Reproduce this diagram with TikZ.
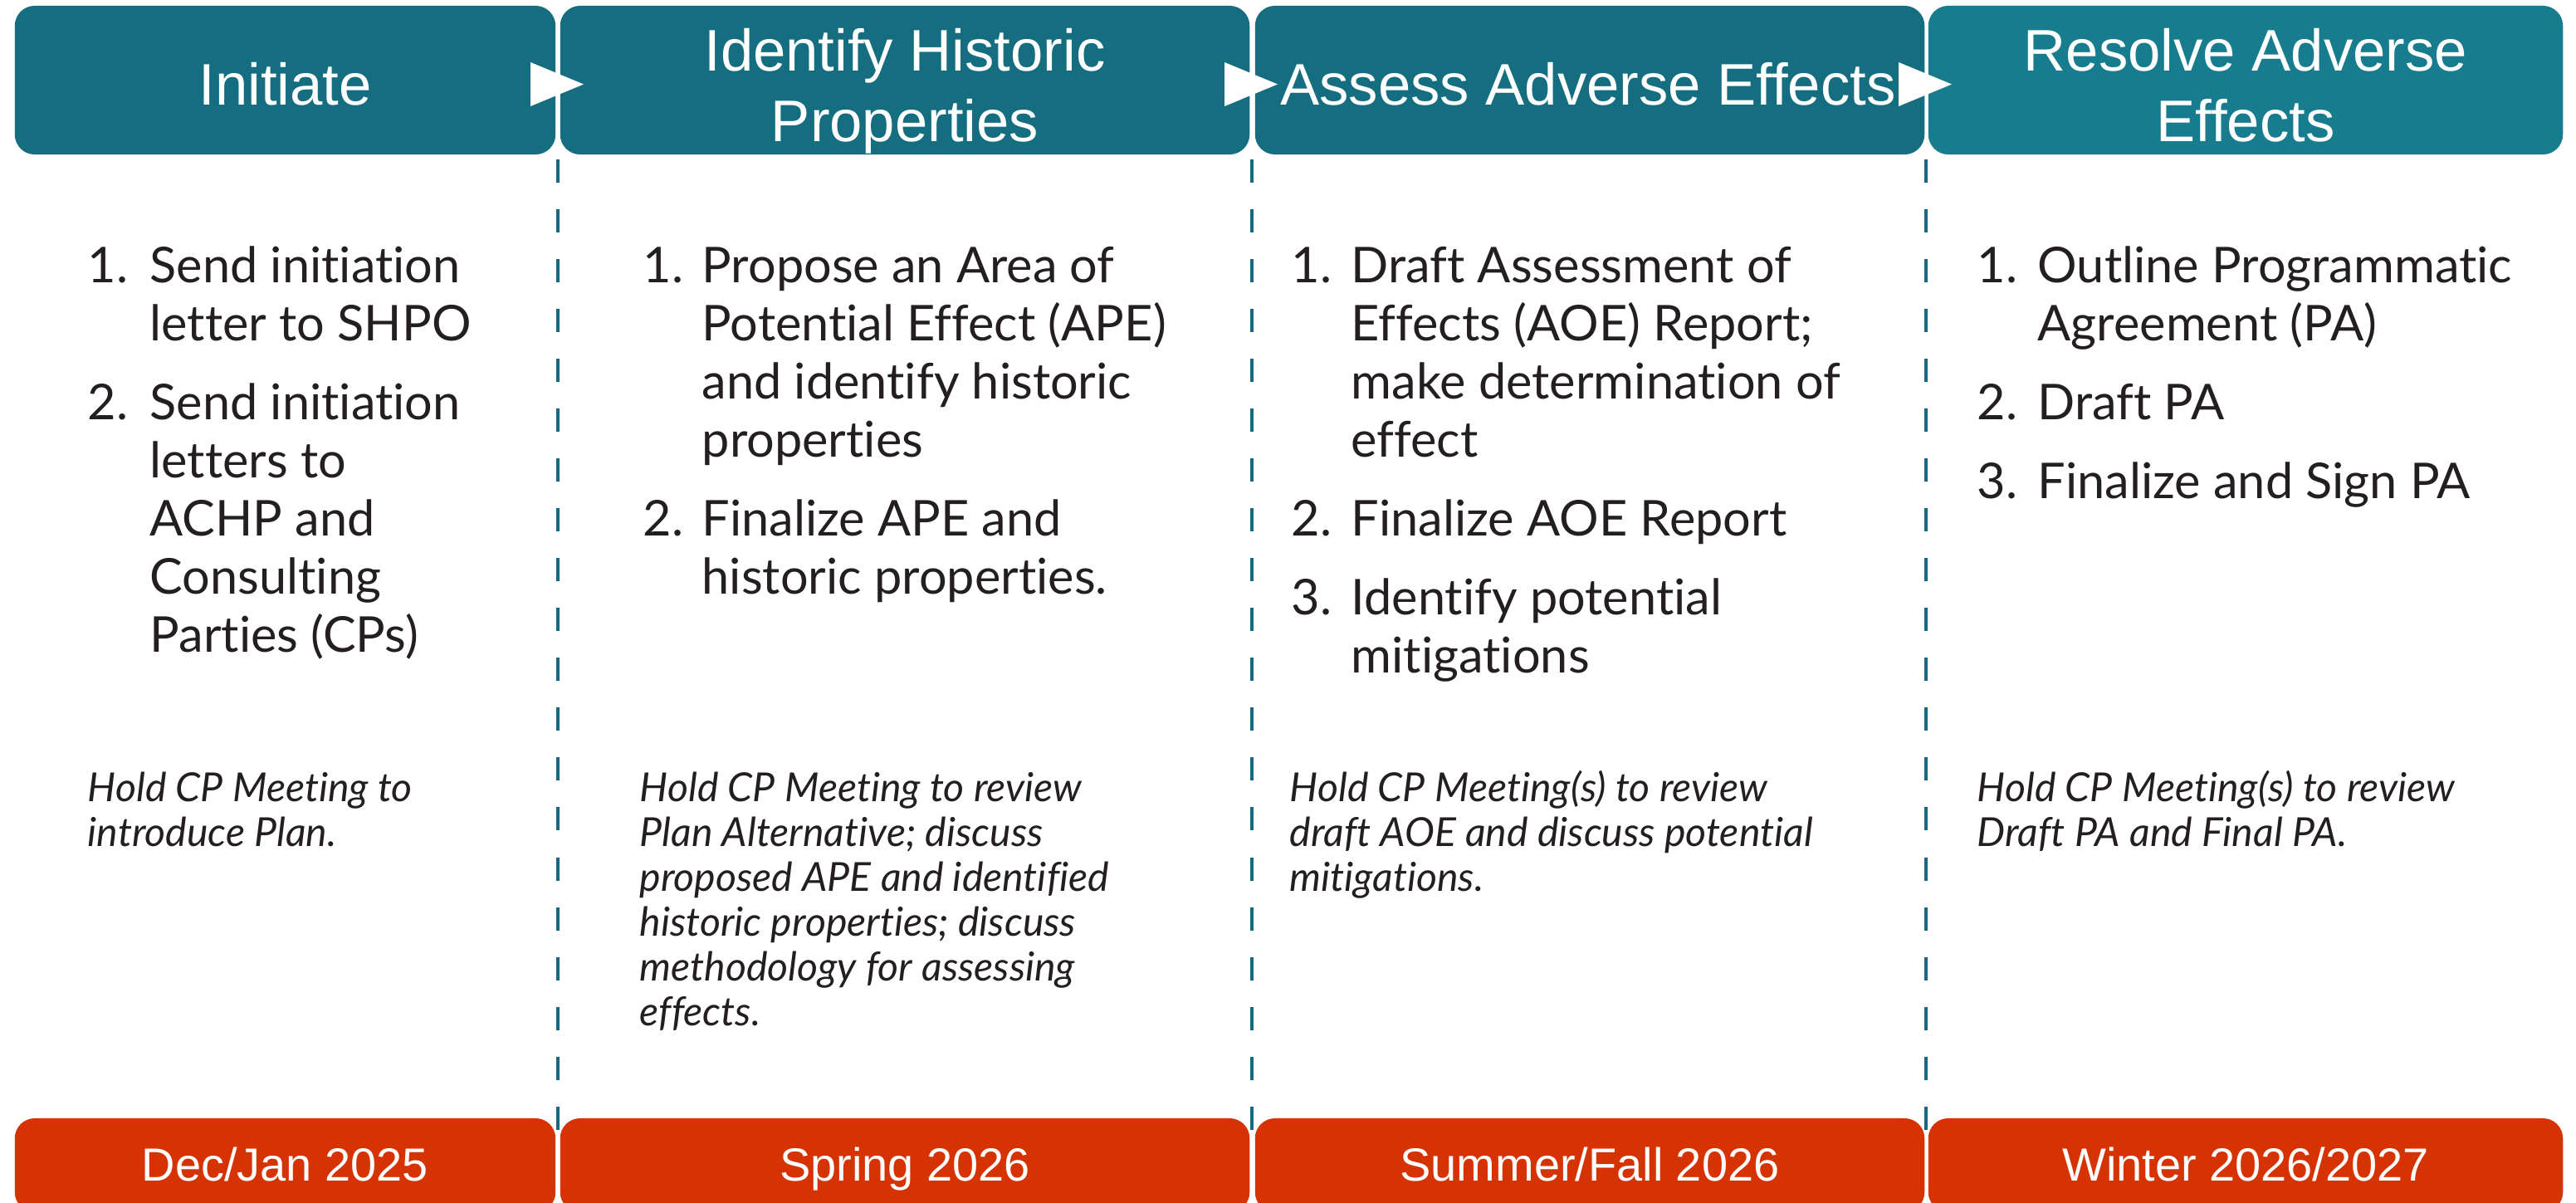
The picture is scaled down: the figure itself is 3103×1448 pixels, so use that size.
\documentclass[tikz,border=0pt]{standalone}
\usepackage{fontspec}
\setmainfont{Lato}[Ligatures=NoCommon]
\newfontfamily\hdrfamily{Liberation Sans}
\definecolor{tealA}{RGB}{21,110,128}
\definecolor{tealB}{RGB}{23,124,142}
\definecolor{footred}{RGB}{214,51,4}
\definecolor{dashcol}{RGB}{24,104,128}
\definecolor{inktext}{RGB}{35,31,32}
\begin{document}
\begin{tikzpicture}[x=0.01cm, y=-0.01cm,
  hbox/.style={fill=tealA, draw=none, rounded corners=0.24cm, minimum height=1.79cm, inner sep=0},
  fbox/.style={fill=footred, draw=none, rounded corners=0.24cm, minimum height=1.13cm, inner sep=0},
  hlab/.style={font=\hdrfamily\fontsize{20.1}{24}\selectfont, text=white, anchor=base, inner sep=0},
  flab/.style={font=\hdrfamily\fontsize{15.9}{19}\selectfont, text=white, anchor=base, inner sep=0},
  body/.style={font=\fontsize{16.9}{20}\selectfont, text=inktext, anchor=base west, inner sep=0},
  note/.style={font=\itshape\fontsize{13.7}{16}\selectfont, text=inktext, anchor=base west, inner sep=0},
  sepline/.style={draw=dashcol, line width=1.4pt, dash pattern=on 0.28cm off 0.32cm},
  marker/.style={fill=white, draw=none}
]
\useasboundingbox (0,0) rectangle (3103,1448);
% separators
\foreach \xx/\nm in {672/s1, 1508/s2, 2320/s3}{
  \coordinate (\nm top) at (\xx,192);
  \coordinate (\nm bot) at (\xx,1362);
  \draw[sepline] (\nm top) -- (\nm bot);
}
% header boxes
\node[hbox, minimum width=6.51cm] (h1) at (343.5,96.5) {};
\node[hbox, minimum width=8.30cm] (h2) at (1090,96.5) {};
\node[hbox, minimum width=8.06cm] (h3) at (1915,96.5) {};
\node[hbox, fill=tealB, minimum width=7.64cm] (h4) at (2705,96.5) {};
% header labels
\node[hlab] (hl1) at (343.5,126) {Initiate};
\node[hlab] (hl2a) at (1090,85) {Identify Historic};
\node[hlab] (hl2b) at (1090,170) {Properties};
\node[hlab] (hl3) at (1913,126) {Assess Adverse Effects};
\node[hlab] (hl4a) at (2705,85) {Resolve Adverse};
\node[hlab] (hl4b) at (2705,170) {Effects};
% arrow markers
\foreach \xx in {672,1508,2320}{
  \fill[marker] (\xx-33,75) -- (\xx+31,101.5) -- (\xx-33,128) -- cycle;
}
% footer boxes
\node[fbox, minimum width=6.51cm] (f1) at (343.5,1403.5) {};
\node[fbox, minimum width=8.30cm] (f2) at (1090,1403.5) {};
\node[fbox, minimum width=8.06cm] (f3) at (1915,1403.5) {};
\node[fbox, minimum width=7.64cm] (f4) at (2705,1403.5) {};
\node[flab] (fl1) at (343.5,1422) {Dec/Jan 2025};
\node[flab] (fl2) at (1090,1422) {Spring 2026};
\node[flab] (fl3) at (1915,1422) {Summer/Fall 2026};
\node[flab] (fl4) at (2705,1422) {Winter 2026/2027};
% column 1
\node[body] (n11) at (105,340) {1.};
\node[body] (t11a) at (180,340) {Send initiation};
\node[body] (t11b) at (180,410) {letter to SHPO};
\node[body] (n12) at (105,505) {2.};
\node[body] (t12a) at (180,505) {Send initiation};
\node[body] (t12b) at (180,575) {letters to};
\node[body] (t12c) at (180,645) {ACHP and};
\node[body] (t12d) at (180,715) {Consulting};
\node[body] (t12e) at (180,785) {Parties (CPs)};
\node[note] (m1a) at (105,965) {Hold CP Meeting to};
\node[note] (m1b) at (105,1019) {introduce Plan.};
% column 2
\node[body] (n21) at (774,340) {1.};
\node[body] (t21a) at (845,340) {Propose an Area of};
\node[body] (t21b) at (845,410) {Potential Effect (APE)};
\node[body] (t21c) at (845,480) {and identify historic};
\node[body] (t21d) at (845,550) {properties};
\node[body] (n22) at (774,645) {2.};
\node[body] (t22a) at (845,645) {Finalize APE and};
\node[body] (t22b) at (845,715) {historic properties.};
\node[note] (m2a) at (770,965) {Hold CP Meeting to review};
\node[note] (m2b) at (770,1019) {Plan Alternative; discuss};
\node[note] (m2c) at (770,1073) {proposed APE and identified};
\node[note] (m2d) at (770,1127) {historic properties; discuss};
\node[note] (m2e) at (770,1181) {methodology for assessing};
\node[note] (m2f) at (770,1235) {effects.};
% column 3
\node[body] (n31) at (1555,340) {1.};
\node[body] (t31a) at (1627,340) {Draft Assessment of};
\node[body] (t31b) at (1627,410) {Effects (AOE) Report;};
\node[body] (t31c) at (1627,480) {make determination of};
\node[body] (t31d) at (1627,550) {effect};
\node[body] (n32) at (1555,645) {2.};
\node[body] (t32a) at (1627,645) {Finalize AOE Report};
\node[body] (n33) at (1555,740) {3.};
\node[body] (t33a) at (1627,740) {Identify potential};
\node[body] (t33b) at (1627,810) {mitigations};
\node[note] (m3a) at (1553,965) {Hold CP Meeting(s) to review};
\node[note] (m3b) at (1553,1019) {draft AOE and discuss potential};
\node[note] (m3c) at (1553,1073) {mitigations.};
% column 4
\node[body] (n41) at (2381,340) {1.};
\node[body] (t41a) at (2454,340) {Outline Programmatic};
\node[body] (t41b) at (2454,410) {Agreement (PA)};
\node[body] (n42) at (2381,505) {2.};
\node[body] (t42a) at (2454,505) {Draft PA};
\node[body] (n43) at (2381,600) {3.};
\node[body] (t43a) at (2454,600) {Finalize and Sign PA};
\node[note] (m4a) at (2381,965) {Hold CP Meeting(s) to review};
\node[note] (m4b) at (2381,1019) {Draft PA and Final PA.};
\end{tikzpicture}
\end{document}
